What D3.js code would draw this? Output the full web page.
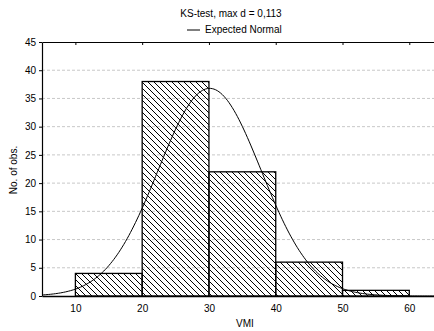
<!DOCTYPE html>
<html>
<head>
<meta charset="utf-8">
<script src="https://cdn.jsdelivr.net/npm/d3@7"></script>
<style>
  body { margin: 0; background: #fff; }
  svg { font-family: "Liberation Sans", Arial, sans-serif; }
</style>
</head>
<body>
<div id="chart"></div>
<script>
// histogram bins (VMI) and counts
const binStarts = [10, 20, 30, 40, 50]
const binWidth = 10
const counts = [4, 38, 22, 6, 1]
const xTicks = [10, 20, 30, 40, 50, 60]
const yTicks = [0, 5, 10, 15, 20, 25, 30, 35, 40, 45]
// expected normal fit parameters
const fitMean = 30.1
const fitSd = 7.7
const fitN = 71
const title = "KS-test, max d = 0,113"

const width = 434, height = 331
const margin = { top: 42, right: 0, bottom: 35, left: 42 }

const svg = d3.select('#chart').append('svg')
  .attr('width', width)
  .attr('height', height)

const x = d3.scaleLinear().domain([5, 63.7]).range([margin.left, width - margin.right])
const y = d3.scaleLinear().domain([0, 45]).range([height - margin.bottom, margin.top])

// hatch pattern
svg.append('defs').append('pattern')
  .attr('id', 'hatch')
  .attr('patternUnits', 'userSpaceOnUse')
  .attr('width', 6).attr('height', 6)
  .append('path')
  .attr('d', 'M0,0L6,6M-1,5L1,7M5,-1L7,1')
  .attr('stroke', '#000')
  .attr('stroke-width', 1)

// dashed grid
svg.append('g')
  .selectAll('line')
  .data(yTicks.filter(d => d > 0 && d < 45))
  .join('line')
  .attr('x1', margin.left).attr('x2', width)
  .attr('y1', d => y(d)).attr('y2', d => y(d))
  .attr('stroke', '#c8c8c8')
  .attr('stroke-dasharray', '3,2')

// bars
svg.append('g')
  .selectAll('rect')
  .data(binStarts.map((s, i) => ({ s, c: counts[i] })))
  .join('rect')
  .attr('x', d => x(d.s))
  .attr('width', d => x(d.s + binWidth) - x(d.s))
  .attr('y', d => y(d.c))
  .attr('height', d => y(0) - y(d.c))
  .attr('fill', 'url(#hatch)')
  .attr('stroke', '#000')
  .attr('stroke-width', 1.3)

// expected normal curve
const curvePts = d3.range(5, 63.8, 0.25).map(v => [v,
  fitN * binWidth / (fitSd * Math.sqrt(2 * Math.PI)) * Math.exp(-((v - fitMean) ** 2) / (2 * fitSd * fitSd))])
svg.append('path')
  .datum(curvePts)
  .attr('d', d3.line().x(d => x(d[0])).y(d => y(d[1])))
  .attr('fill', 'none')
  .attr('stroke', '#000')
  .attr('stroke-width', 1)

// axes
const xAxis = svg.append('g')
  .attr('transform', `translate(0,${y(0)})`)
  .call(d3.axisBottom(x).tickValues(xTicks).tickSize(0).tickPadding(9))
xAxis.select('.domain').attr('stroke-width', 1.5)
xAxis.selectAll('text').attr('font-size', 10).attr('fill', '#000')

const xTop = svg.append('g')
  .attr('transform', `translate(0,${y(45)})`)
  .call(d3.axisTop(x).tickValues(xTicks).tickSizeInner(-3).tickSizeOuter(0).tickFormat(''))

const yAxis = svg.append('g')
  .attr('transform', `translate(${margin.left},0)`)
  .call(d3.axisLeft(y).tickValues(yTicks).tickSizeInner(3).tickSizeOuter(0).tickPadding(3))
yAxis.selectAll('text').attr('font-size', 10).attr('fill', '#000')
yAxis.select('.domain').attr('stroke-width', 1.2)

// titles
svg.append('text')
  .attr('x', 231).attr('y', 17)
  .attr('text-anchor', 'middle')
  .attr('font-size', 10)
  .text(title)

svg.append('line')
  .attr('x1', 187).attr('x2', 200)
  .attr('y1', 30).attr('y2', 30)
  .attr('stroke', '#000')
svg.append('text')
  .attr('x', 205).attr('y', 33)
  .attr('font-size', 10)
  .text('Expected Normal')

svg.append('text')
  .attr('transform', `translate(17,170) rotate(-90)`)
  .attr('text-anchor', 'middle')
  .attr('font-size', 10)
  .text('No. of obs.')

svg.append('text')
  .attr('x', 245).attr('y', 327)
  .attr('text-anchor', 'middle')
  .attr('font-size', 10)
  .text('VMI')
</script>
</body>
</html>
